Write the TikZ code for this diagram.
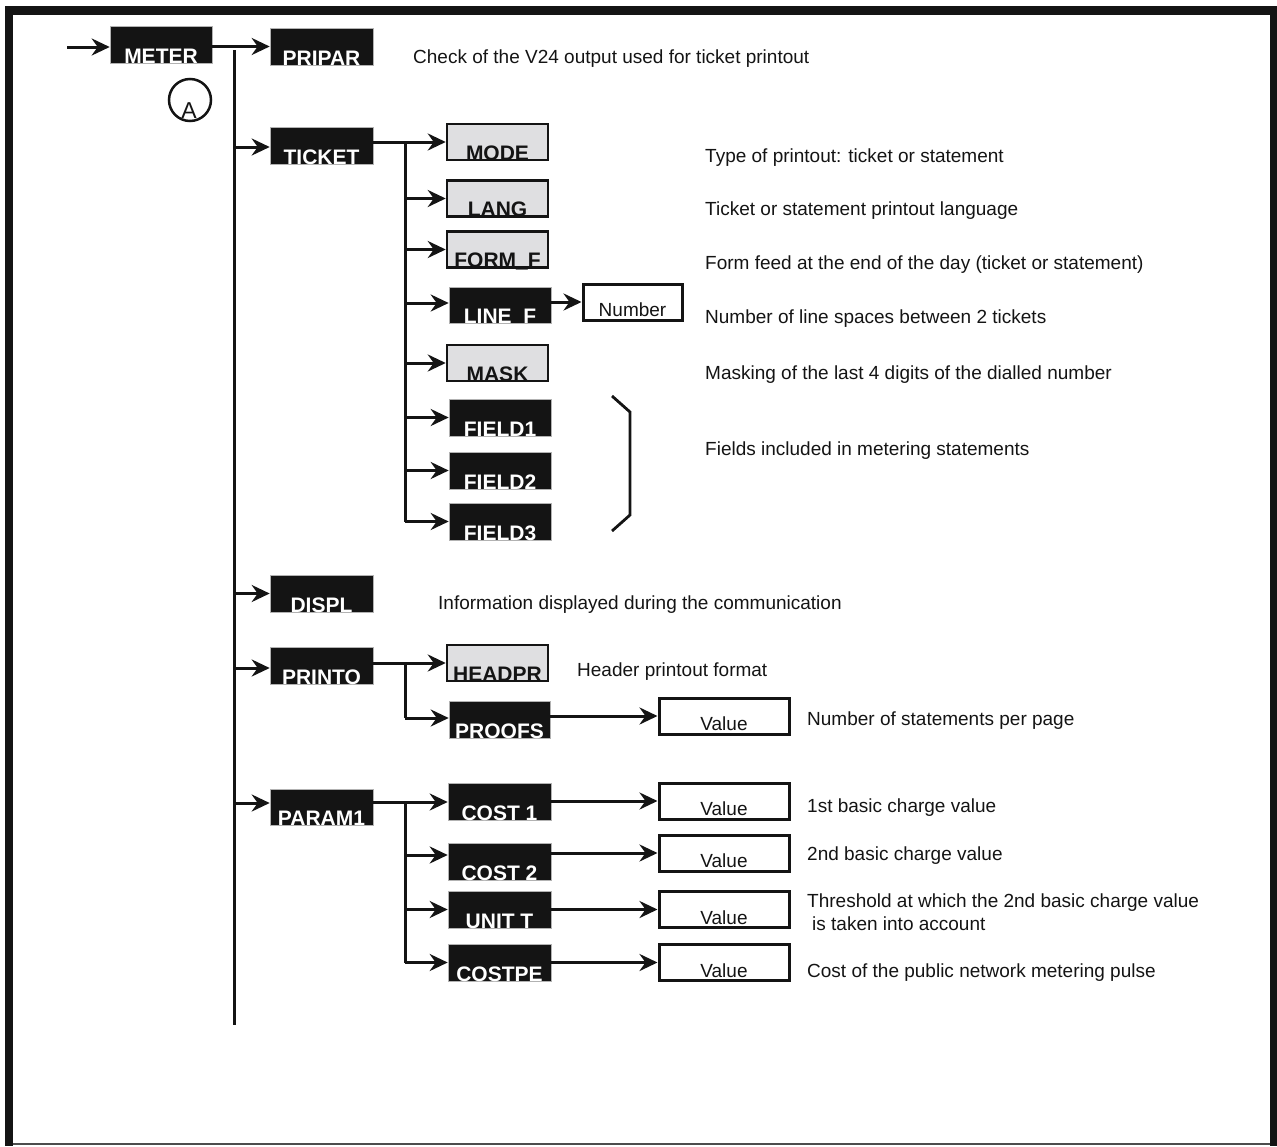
\documentclass[tikz,border=0pt]{standalone}
\usepackage{fontspec}
\setmainfont{Liberation Sans}
\usetikzlibrary{arrows.meta}
\definecolor{ink}{HTML}{141414}
\definecolor{pale}{HTML}{DFDFE1}
\begin{document}
\begin{tikzpicture}[x=1pt,y=-1pt,
  blk/.style={rectangle, fill=ink, draw=gray!60, line width=0.6pt, text=white,
    font=\fontsize{21}{22}\selectfont\bfseries, inner xsep=0pt, inner ysep=0pt,
    text height=37pt, text depth=0pt, minimum width=102pt},
  gry/.style={rectangle, fill=pale, draw=ink, line width=2.5pt, text=ink,
    font=\fontsize{21}{22}\selectfont\bfseries, inner xsep=0pt, inner ysep=0pt,
    text height=36pt, text depth=0pt, minimum width=101pt},
  valbox/.style={rectangle, fill=white, draw=ink, line width=3pt, text=ink,
    font=\fontsize{19}{22}\selectfont, inner xsep=0pt, inner ysep=3.5pt,
    text height=29pt, text depth=0pt, minimum width=130pt},
  desc/.style={anchor=base west, inner sep=0pt, text=ink, font=\fontsize{19}{22}\selectfont},
  conn/.style={draw=ink, line width=3pt},
  arr/.style={conn, -{Stealth[length=18pt,width=17pt,inset=6pt]}}
]
\useasboundingbox (0,0) rectangle (1277,1146);
% frame
\fill[ink] (5,6) rectangle (1277,15);
\fill[ink] (5,6) rectangle (13,1146);
\fill[ink] (1270,6) rectangle (1277,1146);
\draw[line width=1.5pt, gray!60!black] (13,1144) -- (1270,1144);

% main boxes
\node[blk] (meter) at (161,44.5) {METER};
\node[blk, minimum width=103pt] (pripar) at (321.5,46.5) {PRIPAR};
\node[blk, minimum width=103pt] (ticket) at (321.5,145.5) {TICKET};
\node[blk, minimum width=103pt] (displ) at (321.5,593.5) {DISPL};
\node[blk, minimum width=103pt] (printo) at (321.5,665.5) {PRINTO};
\node[blk, minimum width=103pt, text height=36pt] (param1) at (321.5,807) {PARAM1};

% circle A
\node[circle, draw=ink, line width=2.5pt, minimum size=42pt, inner sep=0pt] (circA) at (190,100) {};
\node[anchor=base, inner sep=0pt, text=ink, font=\fontsize{23}{24}\selectfont] (letA) at (189,118) {A};

% ticket sub boxes
\node[gry] (mode) at (497.5,142) {MODE};
\node[gry] (lang) at (497.5,198.5) {LANG};
\node[gry] (formf) at (497.5,249.5) {FORM\_F};
\node[blk, text height=36pt] (linef) at (500,305) {LINE\_F};
\node[valbox, minimum width=99pt] (number) at (632.5,302) {Number};
\node[gry] (mask) at (497.5,363) {MASK};
\node[blk] (field1) at (500,417.5) {FIELD1};
\node[blk] (field2) at (500,470.5) {FIELD2};
\node[blk] (field3) at (500,521.5) {FIELD3};

% printo sub boxes
\node[gry] (headpr) at (497.5,663) {HEADPR};
\node[blk, minimum width=101pt] (proofs) at (499.5,719.5) {PROOFS};
\node[valbox] (valp) at (724,716) {Value};

% param1 sub boxes
\node[blk, minimum width=103pt] (cost1) at (499.5,802) {COST 1};
\node[blk, minimum width=103pt] (cost2) at (499.5,861.5) {COST 2};
\node[blk, minimum width=103pt] (unitt) at (499.5,909.5) {UNIT T};
\node[blk, minimum width=103pt] (costpe) at (499.5,962.5) {COSTPE};
\node[valbox] (val1) at (724,801) {Value};
\node[valbox] (val2) at (724,853) {Value};
\node[valbox] (val3) at (724,909.5) {Value};
\node[valbox] (val4) at (724,962.5) {Value};

% coordinates for trunk lines
\coordinate (in) at (67,47);
\coordinate (mtop) at (234,50);
\coordinate (mbot) at (234,1025);
\coordinate (tk) at (405,0);

% connectors
\draw[arr] (in) -- (in -| meter.west);
\draw[arr] (meter.east |- pripar.west) -- (pripar.west);
\draw[conn] (mtop) -- (mbot);
\draw[arr] ([yshift=-1.5pt]ticket.west -| mtop) -- ([yshift=-1.5pt]ticket.west);
\draw[arr] (displ.west -| mtop) -- (displ.west);
\draw[arr] ([yshift=-2.5pt]printo.west -| mtop) -- ([yshift=-2.5pt]printo.west);
\draw[arr] ([yshift=4pt]param1.west -| mtop) -- ([yshift=4pt]param1.west);

% ticket branch
\draw[arr] (ticket.east |- mode.west) -- (mode.west);
\draw[conn] (mode.west -| tk) -- (field3.west -| tk);
\draw[arr] (lang.west -| tk) -- (lang.west);
\draw[arr] (formf.west -| tk) -- (formf.west);
\draw[arr] ([yshift=2pt]linef.west -| tk) -- ([yshift=2pt]linef.west);
\draw[arr] (mask.west -| tk) -- (mask.west);
\draw[arr] (field1.west -| tk) -- (field1.west);
\draw[arr] (field2.west -| tk) -- (field2.west);
\draw[arr] (field3.west -| tk) -- (field3.west);
\draw[arr] (linef.east |- number.west) -- (number.west);

% bracket
\draw[conn, line width=2.8pt] (612,396) -- (630,412) -- (630,515) -- (612,531);

% printo branch
\draw[arr] (printo.east |- headpr.west) -- (headpr.west);
\draw[conn] (headpr.west -| tk) -- ([yshift=1.5pt]proofs.west -| tk);
\draw[arr] ([yshift=1.5pt]proofs.west -| tk) -- ([yshift=1.5pt]proofs.west);
\draw[arr] (proofs.east |- valp.west) -- (valp.west);

% param1 branch
\draw[arr] (param1.east |- cost1.west) -- (cost1.west);
\draw[conn] (cost1.west -| tk) -- (costpe.west -| tk);
\draw[arr] ([yshift=6.5pt]cost2.west -| tk) -- ([yshift=6.5pt]cost2.west);
\draw[arr] (unitt.west -| tk) -- (unitt.west);
\draw[arr] (costpe.west -| tk) -- (costpe.west);
\draw[arr] (cost1.east |- val1.west) -- (val1.west);
\draw[arr] (cost2.east |- val2.west) -- (val2.west);
\draw[arr] (unitt.east |- val3.west) -- (val3.west);
\draw[arr] (costpe.east |- val4.west) -- (val4.west);

% descriptions
\node[desc] (d1) at (413,63) {Check of the V24 output used for ticket printout};
\node[desc] (d2) at (705,162) {Type of printout: ticket or statement};
\node[desc] (d3) at (705,215) {Ticket or statement printout language};
\node[desc] (d4) at (705,269) {Form feed at the end of the day (ticket or statement)};
\node[desc] (d5) at (705,323) {Number of line spaces between 2 tickets};
\node[desc] (d6) at (705,379) {Masking of the last 4 digits of the dialled number};
\node[desc] (d7) at (705,455) {Fields included in metering statements};
\node[desc] (d8) at (438,609) {Information displayed during the communication};
\node[desc] (d9) at (577,676) {Header printout format};
\node[desc] (d10) at (807,725) {Number of statements per page};
\node[desc] (d11) at (807,812) {1st basic charge value};
\node[desc] (d12) at (807,860) {2nd basic charge value};
\node[desc] (d13) at (807,907) {Threshold at which the 2nd basic charge value};
\node[desc] (d14) at (812,930) {is taken into account};
\node[desc] (d15) at (807,977) {Cost of the public network metering pulse};
\end{tikzpicture}
\end{document}
